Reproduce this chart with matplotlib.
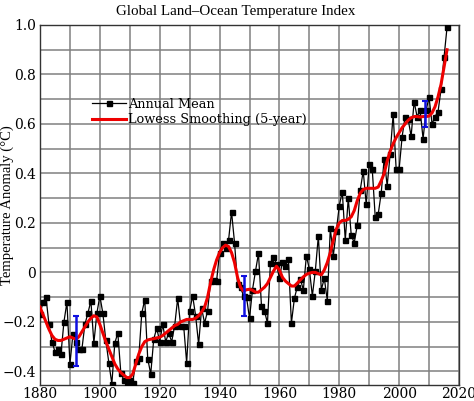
import numpy as np
import matplotlib
matplotlib.use("Agg")
import matplotlib.pyplot as plt

# Jahre und Jahresmittel
years = np.arange(1880, 2017)
annual = [
    -0.17, -0.12, -0.10, -0.21, -0.28, -0.32, -0.31, -0.33, -0.20, -0.12,   # 1880er
    -0.37, -0.25, -0.28, -0.31, -0.31, -0.21, -0.165, -0.115, -0.285, -0.165,  # 1890er
    -0.095, -0.165, -0.275, -0.365, -0.45, -0.285, -0.245, -0.405, -0.435, -0.46,  # 1900er
    -0.435, -0.445, -0.36, -0.345, -0.165, -0.11, -0.35, -0.41, -0.27, -0.225,  # 1910er
    -0.28, -0.21, -0.28, -0.245, -0.28, -0.215, -0.105, -0.215, -0.215, -0.365,  # 1920er
    -0.155, -0.095, -0.175, -0.29, -0.145, -0.205, -0.155, -0.035, -0.03, -0.035,  # 1930er
    0.08, 0.12, 0.10, 0.13, 0.245, 0.12, -0.045, -0.06, -0.095, -0.10,  # 1940er
    -0.185, -0.07, 0.005, 0.077, -0.135, -0.155, -0.205, 0.037, 0.064, 0.034,  # 1950er
    -0.024, 0.044, 0.026, 0.053, -0.205, -0.105, -0.057, -0.028, -0.07, 0.067,  # 1960er
    0.013, -0.095, 0.007, 0.147, -0.07, -0.024, -0.114, 0.178, 0.067, 0.168,  # 1970er
    0.269, 0.327, 0.13, 0.30, 0.15, 0.12, 0.19, 0.333, 0.41, 0.275,  # 1980er
    0.438, 0.42, 0.225, 0.235, 0.32, 0.46, 0.35, 0.479, 0.64, 0.418,  # 1990er
    0.418, 0.549, 0.63, 0.62, 0.55, 0.69, 0.63, 0.656, 0.54, 0.655,  # 2000er
    0.708, 0.60, 0.63, 0.65, 0.74, 0.87, 0.99,  # 2010er
]

smooth = [
    -0.14, -0.17, -0.20, -0.23, -0.255, -0.27, -0.275, -0.275, -0.27, -0.265,
    -0.26, -0.265, -0.27, -0.26, -0.24, -0.22, -0.20, -0.185, -0.175, -0.18,
    -0.21, -0.245, -0.28, -0.31, -0.34, -0.37, -0.39, -0.405, -0.415, -0.425,
    -0.425, -0.41, -0.37, -0.33, -0.30, -0.28, -0.273, -0.27, -0.268, -0.265,
    -0.262, -0.255, -0.245, -0.235, -0.225, -0.215, -0.21, -0.20, -0.195, -0.19,
    -0.19, -0.19, -0.185, -0.175, -0.16, -0.14, -0.10, -0.04, 0.01, 0.05,
    0.08, 0.10, 0.11, 0.105, 0.08, 0.04, -0.02, -0.06, -0.075, -0.07,
    -0.068, -0.072, -0.08, -0.08, -0.07, -0.06, -0.045, -0.02, 0.005, 0.025,
    0.01, -0.02, -0.035, -0.045, -0.055, -0.055, -0.043, -0.03, -0.018, -0.008,
    -0.003, 0.0, 0.0, -0.005, -0.01, 0.01, 0.04, 0.08, 0.13, 0.175,
    0.20, 0.21, 0.21, 0.215, 0.225, 0.25, 0.29, 0.32, 0.335, 0.34,
    0.34, 0.34, 0.34, 0.345, 0.37, 0.40, 0.45, 0.49, 0.52, 0.545,
    0.565, 0.585, 0.60, 0.615, 0.625, 0.63, 0.63, 0.628, 0.63, 0.63,
    0.632, 0.645, 0.67, 0.71, 0.76, 0.83, 0.90,
]

# Unsicherheitsbalken
err_years = [1892, 1948, 2008.5]
err_low = [-0.378, -0.176, 0.588]
err_high = [-0.176, -0.014, 0.692]

xtick_vals = [1880, 1900, 1920, 1940, 1960, 1980, 2000, 2020]
ytick_vals = [1.0, 0.8, 0.6, 0.4, 0.2, 0.0, -0.2, -0.4]
ytick_labels = ["1.0", "0.8", "0.6", "0.4", "0.2", "0", "\u22120.2", "\u22120.4"]

fig = plt.figure(figsize=(4.74, 4.01), dpi=100)
ax = fig.add_axes([40 / 474, 16 / 401, 419 / 474, 360 / 401])

# Gitter alle 10 Jahre / 0.1 Grad
ax.set_xticks(np.arange(1880, 2021, 10), minor=True)
ax.set_yticks(np.arange(-0.4, 1.01, 0.1), minor=True)
ax.grid(True, which="both", color="#808080", linewidth=1.1)
ax.set_axisbelow(True)

ax.plot(years, annual, color="black", linewidth=0.9, marker="s",
        markersize=3.6, label="Annual Mean", zorder=3)
ax.plot(years, smooth, color="#ee0000", linewidth=2.2,
        label="Lowess Smoothing (5-year)", zorder=4)

err_mid = [(lo + hi) / 2 for lo, hi in zip(err_low, err_high)]
err_half = [(hi - lo) / 2 for lo, hi in zip(err_low, err_high)]
ax.errorbar(err_years, err_mid, yerr=err_half, fmt="none", ecolor="#1010e0",
            elinewidth=1.8, capsize=2.5, capthick=1.5, zorder=5)

ax.set_xlim(1880, 2020)
ax.set_ylim(-0.455, 1.0)
ax.set_xticks(xtick_vals)
ax.set_yticks(ytick_vals)
ax.set_yticklabels(ytick_labels)
ax.tick_params(which="both", length=0, pad=3, labelsize=10)
ax.tick_params(axis="x", pad=1.5)
for lbl in ax.get_xticklabels() + ax.get_yticklabels():
    lbl.set_family("DejaVu Serif")

for sp in ax.spines.values():
    sp.set_color("#333333")
    sp.set_linewidth(1.0)

ax.set_title("Global Land\u2013Ocean Temperature Index", family="Liberation Serif",
             fontsize=10.8, pad=7, x=0.468)
ax.set_ylabel("Temperature Anomaly (\u00b0C)", family="Liberation Serif", fontsize=10.5)
ax.yaxis.label.set_va("center")
ax.yaxis.set_label_coords(-0.079, 0.5)

leg = ax.legend(loc="upper left", bbox_to_anchor=(0.112, 0.812), frameon=False,
                prop={"family": "DejaVu Serif", "size": 9.3}, handlelength=2.6,
                handletextpad=0.2, labelspacing=0.2, borderaxespad=0)

fig.savefig("out.png", dpi=100)
